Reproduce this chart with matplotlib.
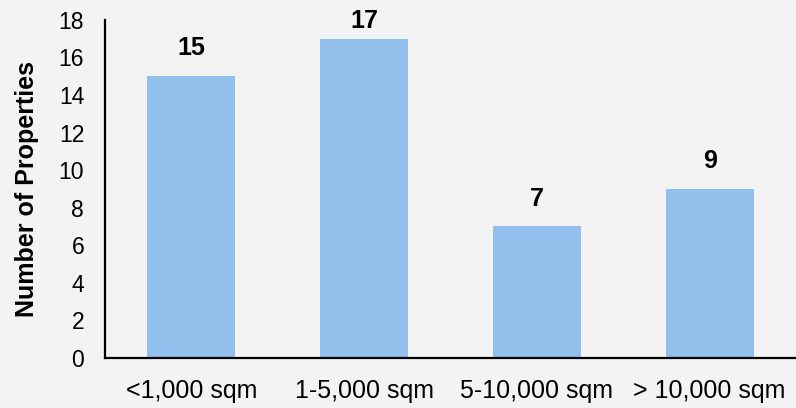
import matplotlib.pyplot as plt

categories = ["<1,000 sqm", "1-5,000 sqm", "5-10,000 sqm", "> 10,000 sqm"]
counts = [15, 17, 7, 9]
yticks = [0, 2, 4, 6, 8, 10, 12, 14, 16, 18]

plt.rcParams['font.family'] = ['Liberation Sans', 'DejaVu Sans']

fig = plt.figure(figsize=(7.96, 4.08), dpi=100)
fig.patch.set_facecolor("#f3f3f3")
ax = fig.add_axes([0.132, 0.1225, 0.868, 0.829])
ax.set_facecolor("#f3f3f3")

x = range(len(categories))
bars = ax.bar(x, counts, width=0.51, color="#92bfeb")

# labels sit above the bars but stay inside the plot area
for b, v in zip(bars, counts):
    ax.text(b.get_x() + b.get_width() / 2, min(v + 0.85, 17.3), str(v),
            ha="center", va="bottom", fontsize=18, fontweight="bold")

ax.set_xlim(-0.5, 3.5)
ax.set_ylim(0, 18)
ax.set_yticks(yticks)
ax.set_xticks(list(x))
ax.set_xticklabels(categories)
ax.tick_params(axis="both", length=0)
ax.tick_params(axis="y", pad=15, labelsize=16.5)
ax.tick_params(axis="x", pad=15, labelsize=18)
ax.set_ylabel("Number of Properties", fontsize=18, fontweight="bold", labelpad=14)

for s in ["top", "right"]:
    ax.spines[s].set_visible(False)
for s in ["left", "bottom"]:
    ax.spines[s].set_linewidth(1.6)
    ax.spines[s].set_color("black")

fig.savefig("out.png", dpi=100, facecolor=fig.get_facecolor())
